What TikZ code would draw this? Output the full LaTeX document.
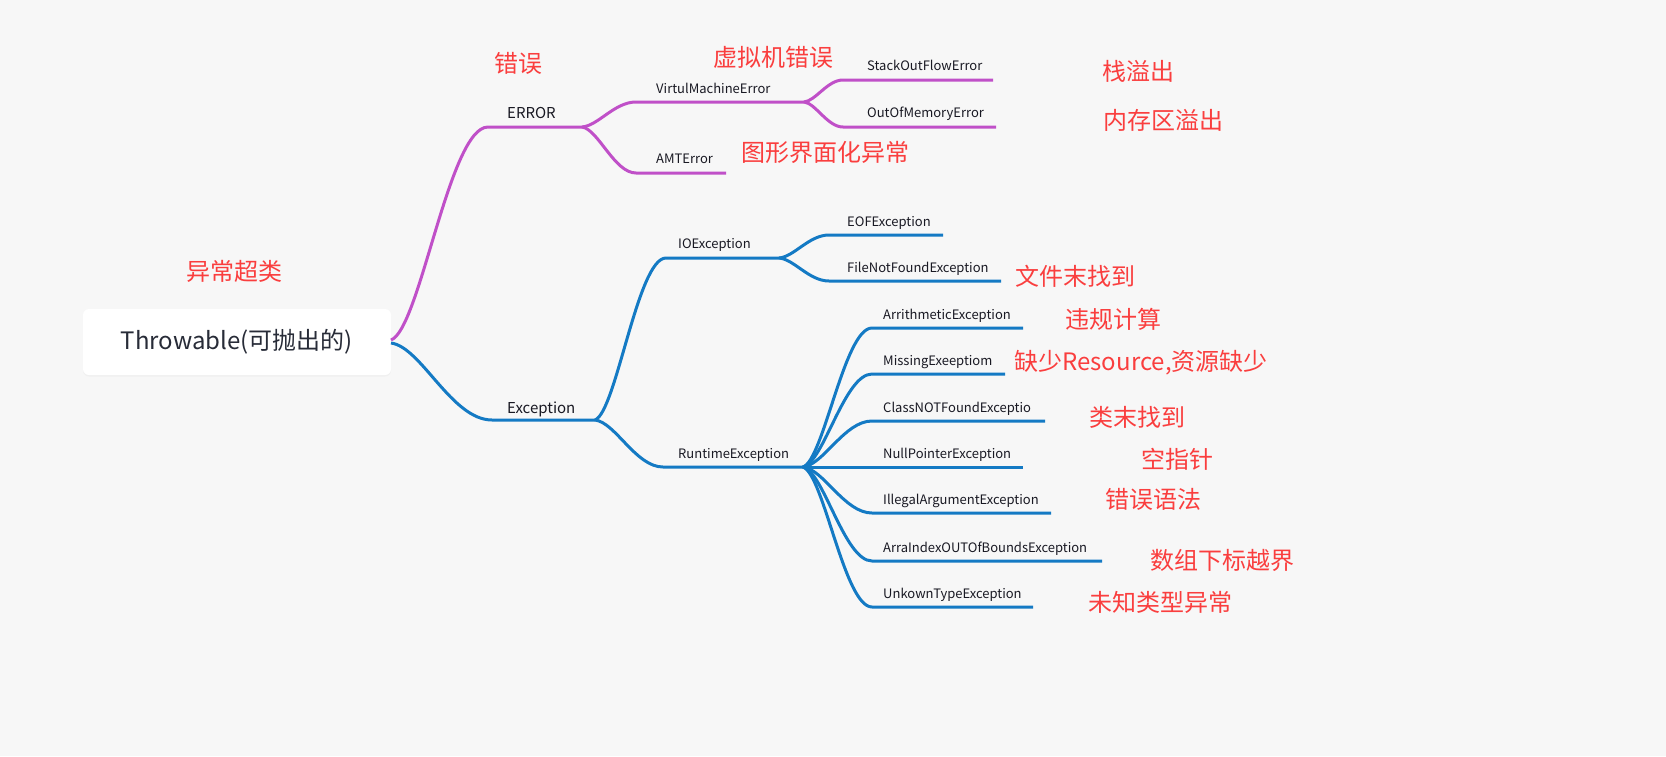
\documentclass[tikz,border=0pt]{standalone}
\usepackage{fontspec}
\setmainfont{Noto Sans CJK SC}
\usetikzlibrary{shadows,calc}
\definecolor{bg}{RGB}{247,247,247}
\definecolor{purp}{RGB}{192,80,200}
\definecolor{blu}{RGB}{20,122,196}
\definecolor{redt}{RGB}{250,62,62}
\definecolor{ink}{RGB}{25,25,35}
\definecolor{rootink}{RGB}{40,44,56}
\begin{document}
\begin{tikzpicture}[x=1pt,y=-1pt,
  ebranch/.style={draw=purp,line width=3pt},
  xbranch/.style={draw=blu,line width=3pt},
  lbl/.style={anchor=base west,inner sep=0pt,text=ink,font=\fontsize{13}{15}\selectfont},
  biglbl/.style={lbl,font=\fontsize{15}{18}\selectfont},
  note/.style={text=redt,inner sep=0pt,font=\fontsize{24}{28}\selectfont},
  conn/.style={to path={let \p1=(\tikztostart), \p2=(\tikztotarget) in
     .. controls ({\x1+0.3*(\x2-\x1)},{\y1+0.05*(\y2-\y1)}) and ({\x1+0.6*(\x2-\x1)},\y2) .. (\tikztotarget)}}
]
\fill[bg] (0,0) rectangle (1666,756);
\useasboundingbox (0,0) rectangle (1666,756);

% root
\node[fill=white,rounded corners=6pt,minimum width=308pt,minimum height=66pt,
      drop shadow={opacity=0.06,shadow xshift=0pt,shadow yshift=-1.5pt},
      text=rootink,font=\fontsize{24}{28}\selectfont] (root) at (237,342) {Throwable(可抛出的)};
\coordinate (rootP) at (391,340);
\coordinate (rootB) at (391,343);

% coordinates of underlines
\coordinate (errS) at (488,127); \coordinate (errE) at (582,127);
\coordinate (vmeS) at (636,102); \coordinate (vmeE) at (804,102);
\coordinate (sofS) at (843,80);  \coordinate (sofE) at (993,80);
\coordinate (oomS) at (843,127); \coordinate (oomE) at (996,127);
\coordinate (amtS) at (636,173); \coordinate (amtE) at (726,173);
\coordinate (excS) at (492,420); \coordinate (excE) at (595,420);
\coordinate (ioS) at (666,258);  \coordinate (ioE) at (779,258);
\coordinate (eofS) at (829,235); \coordinate (eofE) at (943,235);
\coordinate (fnfS) at (829,281); \coordinate (fnfE) at (1001,281);
\coordinate (rtS) at (663,467);  \coordinate (rtE) at (803,467);
\coordinate (ariS) at (872,328); \coordinate (ariE) at (1023,328);
\coordinate (misS) at (872,374); \coordinate (misE) at (1005,374);
\coordinate (cnfS) at (872,421); \coordinate (cnfE) at (1045,421);
\coordinate (npeS) at (872,467); \coordinate (npeE) at (1023,467);
\coordinate (iaeS) at (872,513); \coordinate (iaeE) at (1051,513);
\coordinate (aioS) at (872,561); \coordinate (aioE) at (1102,561);
\coordinate (uteS) at (872,607); \coordinate (uteE) at (1033,607);

% ERROR branch
\draw[ebranch] (rootP) to[conn] (errS) -- (errE);
\draw[ebranch] (errE) to[conn] (vmeS) -- (vmeE);
\draw[ebranch] (vmeE) to[conn] (sofS) -- (sofE);
\draw[ebranch] (vmeE) to[conn] (oomS) -- (oomE);
\draw[ebranch] (errE) to[conn] (amtS) -- (amtE);

% Exception branch
\draw[xbranch] (rootB) to[conn] (excS) -- (excE);
\draw[xbranch] (excE) to[conn] (ioS) -- (ioE);
\draw[xbranch] (ioE) to[conn] (eofS) -- (eofE);
\draw[xbranch] (ioE) to[conn] (fnfS) -- (fnfE);
\draw[xbranch] (excE) to[conn] (rtS) -- (rtE);
\foreach \c in {ari,mis,cnf,npe,iae,aio,ute}{
  \draw[xbranch] (rtE) to[conn] (\c S) -- (\c E);
}

% labels
\node[biglbl] (err) at (507,118) {ERROR};
\node[lbl] (vme) at (656,93) {VirtulMachineError};
\node[lbl] (sof) at (867,70) {StackOutFlowError};
\node[lbl] (oom) at (867,117) {OutOfMemoryError};
\node[lbl] (amt) at (656,163) {AMTError};
\node[biglbl] (exc) at (507,413) {Exception};
\node[lbl] (io) at (678,248) {IOException};
\node[lbl] (eof) at (847,226) {EOFException};
\node[lbl] (fnf) at (847,272) {FileNotFoundException};
\node[lbl] (rt) at (678,458) {RuntimeException};
\node[lbl] (ari) at (883,319) {ArrithmeticException};
\node[lbl] (mis) at (883,365) {MissingExeeptiom};
\node[lbl] (cnf) at (883,412) {ClassNOTFoundExceptio};
\node[lbl] (npe) at (883,458) {NullPointerException};
\node[lbl] (iae) at (883,504) {IllegalArgumentException};
\node[lbl] (aio) at (883,552) {ArraIndexOUTOfBoundsException};
\node[lbl] (ute) at (883,598) {UnkownTypeException};

% red notes
\node[note] (n1) at (234,271) {异常超类};
\node[note] (n2) at (518,63) {错误};
\node[note] (n3) at (773,57) {虚拟机错误};
\node[note] (n4) at (825,152) {图形界面化异常};
\node[note] (n5) at (1138,71) {栈溢出};
\node[note] (n6) at (1163,120) {内存区溢出};
\node[note] (n7) at (1075,276) {文件末找到};
\node[note] (n8) at (1113,319) {违规计算};
\node[note] (n9) at (1141,363) {缺少Resource,资源缺少};
\node[note] (n10) at (1137,417) {类末找到};
\node[note] (n11) at (1177,459) {空指针};
\node[note] (n12) at (1153,499) {错误语法};
\node[note] (n13) at (1222,560) {数组下标越界};
\node[note] (n14) at (1160,602) {未知类型异常};
\end{tikzpicture}
\end{document}
